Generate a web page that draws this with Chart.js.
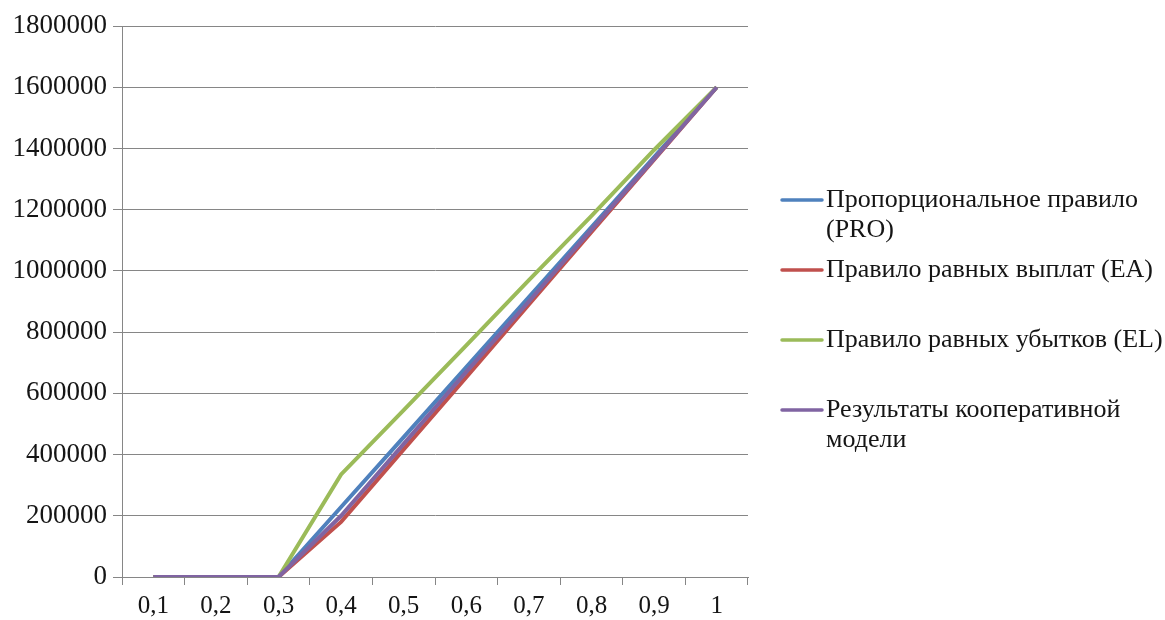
<!DOCTYPE html>
<html>
<head>
<meta charset="utf-8">
<script src="https://cdn.jsdelivr.net/npm/chart.js@4/dist/chart.umd.min.js"></script>
<style>
  html, body { margin: 0; padding: 0; background: #ffffff; }
  #wrap { width: 1165px; height: 620px; }
</style>
</head>
<body>
<div id="wrap"><canvas id="c" width="1165" height="620"></canvas></div>
<script>
// Share of the estate (x) and the award to the creditor under each rule (y)
const categories = ['0,1', '0,2', '0,3', '0,4', '0,5', '0,6', '0,7', '0,8', '0,9', '1'];
const proRule   = [0, 0, 0, 228571, 457143, 685714, 914286, 1142857, 1371429, 1600000];
const eaRule    = [0, 0, 0, 180000, 417000, 653000, 890000, 1127000, 1363000, 1600000];
const elRule    = [0, 0, 0, 335000, 545000, 757000, 970000, 1180000, 1395000, 1600000];
const coopModel = [0, 0, 0, 200000, 435000, 670000, 900000, 1135000, 1366000, 1600000];

const seriesNames = [
  ['Пропорциональное правило', '(PRO)'],
  ['Правило равных выплат (EA)'],
  ['Правило равных убытков (EL)'],
  ['Результаты кооперативной', 'модели']
];
const seriesColors = ['#4F81BD', '#C0504D', '#9BBB59', '#8064A2'];

const yMin = 0, yMax = 1800000, yStep = 200000;

const GRID = '#868686';
const TEXT = '#151515';
const SERIF = "'Liberation Serif', 'Times New Roman', serif";

// Legend drawn at the right, each entry's line marker aligned with its first text line
const sideLegend = {
  id: 'sideLegend',
  afterDraw(chart, args, opts) {
    const ctx = chart.ctx;
    ctx.save();
    ctx.font = opts.fontSize + 'px ' + SERIF;
    ctx.textBaseline = 'middle';
    ctx.textAlign = 'left';
    chart.data.datasets.forEach((ds, i) => {
      const lines = Array.isArray(ds.label) ? ds.label : [ds.label];
      const y = opts.top + i * opts.step;
      ctx.strokeStyle = ds.borderColor;
      ctx.lineWidth = 3.5;
      ctx.lineCap = 'round';
      ctx.beginPath();
      ctx.moveTo(opts.left, y);
      ctx.lineTo(opts.left + opts.markerLength, y);
      ctx.stroke();
      ctx.fillStyle = TEXT;
      lines.forEach((t, k) => {
        ctx.fillText(t, opts.left + opts.markerLength + opts.gap, y + k * opts.lineHeight);
      });
    });
    ctx.restore();
  }
};

const seriesData = [proRule, eaRule, elRule, coopModel];

new Chart(document.getElementById('c'), {
  type: 'line',
  data: {
    labels: categories,
    datasets: seriesData.map((d, i) => ({
      label: seriesNames[i],
      data: d,
      borderColor: seriesColors[i],
      backgroundColor: seriesColors[i],
      borderWidth: 4,
      pointRadius: 0,
      tension: 0,
      fill: false,
      order: seriesData.length - i
    }))
  },
  options: {
    responsive: false,
    animation: false,
    devicePixelRatio: 1,
    layout: { padding: { top: 26, right: 417, bottom: 0, left: 0 } },
    plugins: {
      legend: { display: false },
      tooltip: { enabled: false },
      sideLegend: { left: 782, markerLength: 40, gap: 4, top: 200, step: 70, lineHeight: 30, fontSize: 26 }
    },
    scales: {
      x: {
        type: 'category',
        offset: true,
        afterFit: s => { s.height = 43; },
        grid: { offset: true, drawOnChartArea: false, drawTicks: true, tickLength: 8, color: GRID, lineWidth: 1 },
        border: { display: true, color: GRID, width: 1 },
        ticks: { color: TEXT, font: { family: SERIF, size: 25 }, padding: 6, maxRotation: 0, autoSkip: false }
      },
      y: {
        min: yMin,
        max: yMax,
        afterFit: s => { s.width = 122; },
        grid: { color: GRID, lineWidth: 1, drawTicks: true, tickLength: 9 },
        border: { display: true, color: GRID, width: 1 },
        ticks: {
          stepSize: yStep,
          color: TEXT,
          font: { family: SERIF, size: 27 },
          padding: 6,
          callback: v => String(v)
        }
      }
    }
  },
  plugins: [sideLegend]
});
</script>
</body>
</html>
